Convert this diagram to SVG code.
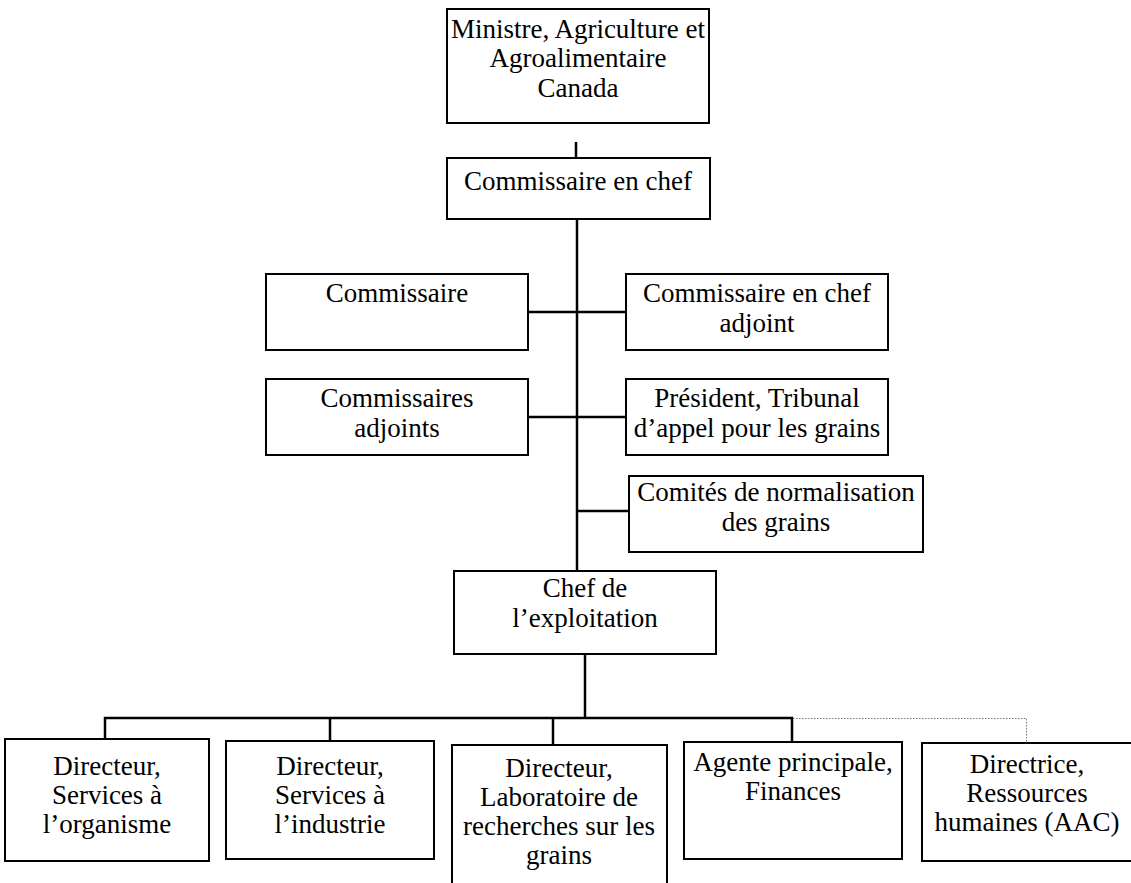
<svg xmlns="http://www.w3.org/2000/svg" width="1131" height="883" viewBox="0 0 1131 883">
<style>
.box{fill:#fff;stroke:#000;stroke-width:2}
.t{font-family:"Liberation Serif","Times New Roman",serif;font-size:27px;fill:#000;text-anchor:middle}
.c{stroke:#000;stroke-width:2.5;fill:none}
.d{stroke:#777;stroke-width:1;stroke-dasharray:1.5 1.5;fill:none}
</style>
<rect width="1131" height="883" fill="#fff"/>
<g id="connectors">
<line class="c" x1="576" y1="142" x2="576" y2="158"/>
<line class="c" x1="577" y1="219" x2="577" y2="571"/>
<line class="c" x1="528" y1="312" x2="626" y2="312"/>
<line class="c" x1="528" y1="417" x2="626" y2="417"/>
<line class="c" x1="577" y1="511" x2="629" y2="511"/>
<line class="c" x1="585" y1="654" x2="585" y2="718"/>
<polyline class="c" points="105,739 105,718 792,718 792,742"/>
<line class="c" x1="330" y1="718" x2="330" y2="741"/>
<line class="c" x1="553" y1="718" x2="553" y2="745"/>
<polyline class="d" points="793,718.5 1026.5,718.5 1026.5,743"/>
</g>
<g id="ministre">
<rect class="box" x="447" y="9" width="262" height="114"/>
<text class="t" x="578" y="38">Ministre, Agriculture et</text>
<text class="t" x="578" y="67">Agroalimentaire</text>
<text class="t" x="578" y="97">Canada</text>
</g>
<g id="commissaire-chef">
<rect class="box" x="447" y="158" width="263" height="61"/>
<text class="t" x="578" y="190">Commissaire en chef</text>
</g>
<g id="commissaire">
<rect class="box" x="266" y="274" width="262" height="76"/>
<text class="t" x="397" y="302">Commissaire</text>
</g>
<g id="commissaire-chef-adjoint">
<rect class="box" x="626" y="274" width="262" height="76"/>
<text class="t" x="757" y="302">Commissaire en chef</text>
<text class="t" x="757" y="332">adjoint</text>
</g>
<g id="commissaires-adjoints">
<rect class="box" x="266" y="379" width="262" height="76"/>
<text class="t" x="397" y="407">Commissaires</text>
<text class="t" x="397" y="437">adjoints</text>
</g>
<g id="president-tribunal">
<rect class="box" x="626" y="379" width="262" height="76"/>
<text class="t" x="757" y="407">Président, Tribunal</text>
<text class="t" x="757" y="437">d’appel pour les grains</text>
</g>
<g id="comites">
<rect class="box" x="629" y="476" width="294" height="76"/>
<text class="t" x="776" y="501">Comités de normalisation</text>
<text class="t" x="776" y="531">des grains</text>
</g>
<g id="chef-exploitation">
<rect class="box" x="454" y="571" width="262" height="83"/>
<text class="t" x="585" y="597">Chef de</text>
<text class="t" x="585" y="627">l’exploitation</text>
</g>
<g id="dir-organisme">
<rect class="box" x="5" y="739" width="204" height="122"/>
<text class="t" x="107" y="775">Directeur,</text>
<text class="t" x="107" y="804">Services à</text>
<text class="t" x="107" y="833">l’organisme</text>
</g>
<g id="dir-industrie">
<rect class="box" x="226" y="741" width="208" height="118"/>
<text class="t" x="330" y="775">Directeur,</text>
<text class="t" x="330" y="804">Services à</text>
<text class="t" x="330" y="833">l’industrie</text>
</g>
<g id="dir-laboratoire">
<rect class="box" x="452" y="745" width="215" height="146"/>
<text class="t" x="559" y="777">Directeur,</text>
<text class="t" x="559" y="806">Laboratoire de</text>
<text class="t" x="559" y="835">recherches sur les</text>
<text class="t" x="559" y="864">grains</text>
</g>
<g id="agente-finances">
<rect class="box" x="684" y="742" width="218" height="117"/>
<text class="t" x="793" y="771">Agente principale,</text>
<text class="t" x="793" y="800">Finances</text>
</g>
<g id="directrice-rh">
<rect class="box" x="922" y="743" width="212" height="118"/>
<text class="t" x="1027" y="773">Directrice,</text>
<text class="t" x="1027" y="802">Ressources</text>
<text class="t" x="1027" y="831">humaines (AAC)</text>
</g>
</svg>
